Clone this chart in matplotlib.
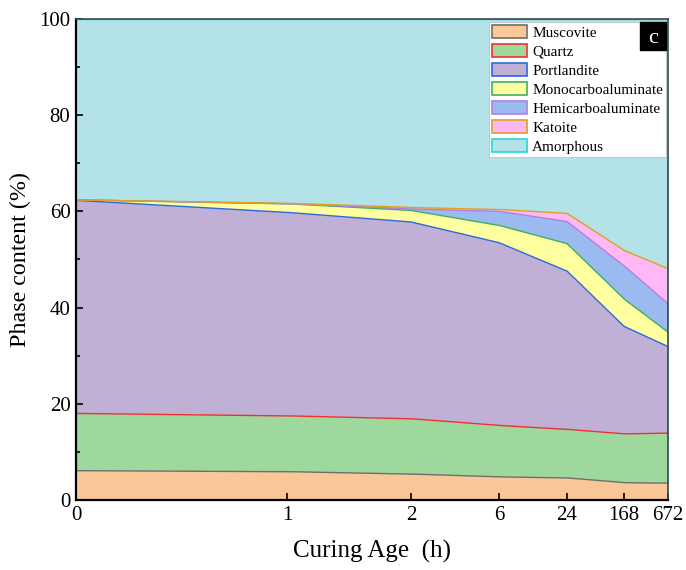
import numpy as np
import matplotlib
matplotlib.use("Agg")
import matplotlib.pyplot as plt
from matplotlib.patches import Patch, Rectangle
from matplotlib.ticker import FixedLocator, MultipleLocator

# Curing ages (h) and phase contents (wt.%)
ages = [0, 1, 2, 6, 24, 168, 672]
age_labels = ["0", "1", "2", "6", "24", "168", "672"]

muscovite = [6.1, 5.9, 5.4, 4.8, 4.6, 3.6, 3.5]
quartz = [11.9, 11.6, 11.5, 10.7, 10.1, 10.15, 10.4]
portlandite = [44.3, 42.3, 40.9, 38.0, 32.9, 22.35, 18.0]
monocarboaluminate = [0.1, 1.8, 2.4, 3.6, 5.7, 5.7, 3.0]
hemicarboaluminate = [0.0, 0.0, 0.3, 2.9, 4.6, 6.9, 5.9]
katoite = [0.0, 0.1, 0.3, 0.4, 1.7, 3.2, 7.3]
amorphous = [37.6, 38.3, 39.2, 39.6, 40.4, 48.1, 51.9]

phase_names = ["Muscovite", "Quartz", "Portlandite", "Monocarboaluminate",
               "Hemicarboaluminate", "Katoite", "Amorphous"]
fill_colors = ["#FAC898", "#9ED89C", "#C0B0D6", "#FFFFA0",
               "#9ABAF0", "#FFB8F6", "#B3E3E8"]
edge_colors = ["#6E6E6E", "#F03030", "#2A6AE0", "#3CB060",
               "#B080E0", "#E0A020", "#20D8D8"]

# Axis spacing for the curing-age ticks (fraction of the axis width)
tick_frac = [0.0, 0.3564, 0.5659, 0.7145, 0.8294, 0.9257, 1.0]


def fwd(v):
    return np.interp(v, ages, tick_frac)


def inv(v):
    return np.interp(v, tick_frac, ages)


plt.rcParams["font.family"] = ["Liberation Serif", "DejaVu Serif"]
plt.rcParams["mathtext.fontset"] = "stix"

fig = plt.figure(figsize=(6.86, 5.70), dpi=100)
ax = fig.add_axes([0.1108, 0.1228, 0.8630, 0.8439])
ax.set_xscale("function", functions=(fwd, inv))

series = [muscovite, quartz, portlandite, monocarboaluminate,
          hemicarboaluminate, katoite, amorphous]
x = np.array(ages, dtype=float)
xx = inv(np.linspace(0, 1, 600))
bottom = np.zeros(len(ages))
handles = []
for vals, name, fc, ec in zip(series, phase_names, fill_colors, edge_colors):
    top = bottom + np.array(vals)
    # interpolate in display spacing so edges are straight between ticks
    b_i = np.interp(fwd(xx), fwd(x), bottom)
    t_i = np.interp(fwd(xx), fwd(x), top)
    ax.fill_between(xx, b_i, t_i, facecolor=fc, edgecolor="none", lw=0, zorder=1)
    bottom = top
    handles.append(Patch(facecolor=fc, edgecolor=ec, linewidth=1.2, label=name))

bottom = np.zeros(len(ages))
for vals, ec in zip(series, edge_colors):
    top = bottom + np.array(vals)
    t_i = np.interp(fwd(xx), fwd(x), top)
    ax.plot(xx, t_i, color=ec, lw=1.0, zorder=2)
    bottom = top

ax.set_xlim(0, 672)
ax.set_ylim(0, 100)
ax.xaxis.set_major_locator(FixedLocator(ages))
ax.xaxis.set_minor_locator(FixedLocator([]))
ax.set_xticklabels(age_labels)
ax.yaxis.set_major_locator(MultipleLocator(20))
ax.yaxis.set_minor_locator(MultipleLocator(10))

ax.tick_params(axis="both", which="both", direction="in", labelsize=15,
               top=False, right=False, width=1.2)
ax.tick_params(axis="both", which="major", length=5, pad=4)
ax.tick_params(axis="both", which="minor", length=3)
for s in ax.spines.values():
    s.set_linewidth(1.2)
ax.spines["left"].set_linewidth(1.6)
ax.spines["bottom"].set_linewidth(1.6)
ax.spines["right"].set_color("#2a4a50")
ax.spines["top"].set_color("#3a4a50")

ax.set_xlabel("Curing Age  (h)", fontsize=18, labelpad=11)
ax.set_ylabel("Phase content (%)", fontsize=17.3, labelpad=6)

leg = ax.legend(handles=handles, loc="upper right",
                bbox_to_anchor=(0.9966, 0.9938), borderaxespad=0.0,
                fontsize=11, frameon=True, fancybox=False,
                edgecolor="#c8c8c8", framealpha=1.0, handlelength=2.3,
                handleheight=0.95, labelspacing=0.27, handletextpad=0.35,
                borderpad=0.2)
leg.get_frame().set_linewidth(0.8)

# panel tag in the upper-right corner
tag_box = Rectangle((0.9527, 0.9356), 0.0439, 0.0582, transform=ax.transAxes,
                    facecolor="black", edgecolor="black", zorder=10)
ax.add_artist(tag_box)
ax.text(0.9747, 0.960, "c", transform=ax.transAxes, ha="center",
        va="center", color="white", fontsize=16, zorder=11)

fig.savefig("out.png", dpi=100)
